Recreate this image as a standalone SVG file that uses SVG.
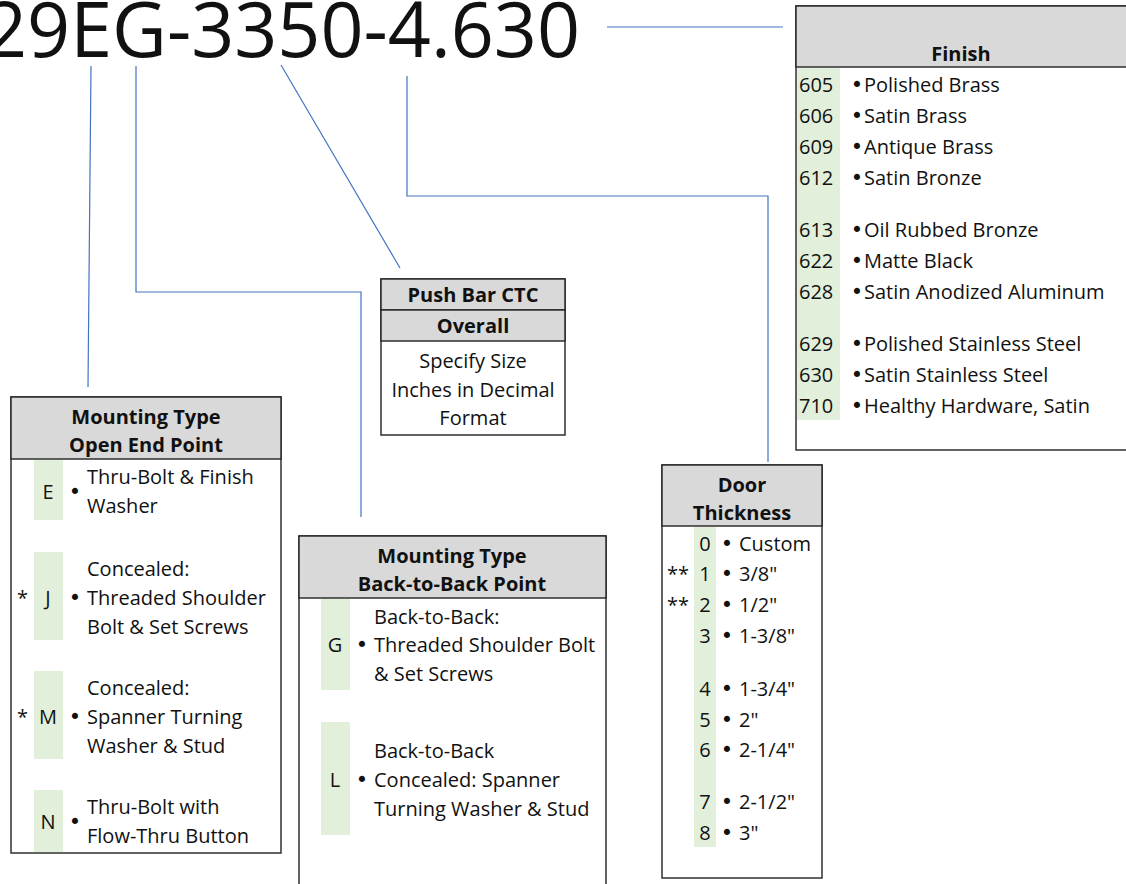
<svg xmlns="http://www.w3.org/2000/svg" width="1126" height="884" viewBox="0 0 1126 884">
<style>
text{font-family:"Open Sans","Liberation Sans",Arial,sans-serif;font-size:20px;fill:#111}
.h{font-weight:bold;text-anchor:middle}
.c{text-anchor:middle}
.b{font-family:"DejaVu Sans",sans-serif;font-size:21px;text-anchor:middle}
.box{fill:#fff;stroke:#222;stroke-width:1.4}
.hd{fill:#D9D9D9;stroke:#222;stroke-width:1.4}
.g{fill:#E2EFDA}
.ln{fill:none;stroke:#4472C4;stroke-width:1.2}
</style>
<rect width="1126" height="884" fill="#fff"/>
<text id="title" x="-16" y="57" textLength="596" lengthAdjust="spacingAndGlyphs" style="font-size:76px">29EG-3350-4.630</text>
<g id="connectors">
<path class="ln" d="M607 27H783"/>
<path class="ln" d="M91 66L88 387"/>
<path class="ln" d="M136 66V292H361V517"/>
<path class="ln" d="M281 65L400 268"/>
<path class="ln" d="M407 76V196H768V462"/>
</g>
<g id="finish">
<rect class="box" x="796" y="6" width="340" height="444"/>
<rect class="hd" x="796" y="6" width="340" height="61"/>
<text class="h" x="961" y="61">Finish</text>
<rect class="g" x="797" y="68" width="43" height="352"/>
<g>
<text x="799" y="92">605</text><text class="b" x="857" y="92">•</text><text x="864" y="92">Polished Brass</text>
<text x="799" y="123">606</text><text class="b" x="857" y="123">•</text><text x="864" y="123">Satin Brass</text>
<text x="799" y="154">609</text><text class="b" x="857" y="154">•</text><text x="864" y="154">Antique Brass</text>
<text x="799" y="185">612</text><text class="b" x="857" y="185">•</text><text x="864" y="185">Satin Bronze</text>
<text x="799" y="237">613</text><text class="b" x="857" y="237">•</text><text x="864" y="237">Oil Rubbed Bronze</text>
<text x="799" y="268">622</text><text class="b" x="857" y="268">•</text><text x="864" y="268">Matte Black</text>
<text x="799" y="299">628</text><text class="b" x="857" y="299">•</text><text x="864" y="299">Satin Anodized Aluminum</text>
<text x="799" y="351">629</text><text class="b" x="857" y="351">•</text><text x="864" y="351">Polished Stainless Steel</text>
<text x="799" y="382">630</text><text class="b" x="857" y="382">•</text><text x="864" y="382">Satin Stainless Steel</text>
<text x="799" y="413">710</text><text class="b" x="857" y="413">•</text><text x="864" y="413">Healthy Hardware, Satin</text>
</g>
</g>
<g id="pushbar">
<rect class="box" x="381" y="279" width="184" height="156"/>
<rect class="hd" x="381" y="279" width="184" height="31"/>
<rect class="hd" x="381" y="310" width="184" height="31"/>
<text class="h" x="473" y="302">Push Bar CTC</text>
<text class="h" x="473" y="333">Overall</text>
<text class="c" x="473" y="368">Specify Size</text>
<text class="c" x="473" y="397">Inches in Decimal</text>
<text class="c" x="473" y="425">Format</text>
</g>
<g id="openend">
<rect class="box" x="11" y="397" width="270" height="456"/>
<rect class="hd" x="11" y="397" width="270" height="62"/>
<text class="h" x="146" y="424">Mounting Type</text>
<text class="h" x="146" y="452">Open End Point</text>
<rect class="g" x="34" y="460" width="29" height="60"/>
<rect class="g" x="34" y="552" width="29" height="88"/>
<rect class="g" x="34" y="671" width="29" height="88"/>
<rect class="g" x="34" y="790" width="29" height="62"/>
<text class="c" x="48" y="499">E</text><text class="b" x="75" y="499">•</text>
<text x="87" y="484">Thru-Bolt &amp; Finish</text><text x="87" y="513">Washer</text>
<text x="17" y="605">*</text><text class="c" x="48" y="605">J</text><text class="b" x="75" y="605">•</text>
<text x="87" y="576">Concealed:</text><text x="87" y="605">Threaded Shoulder</text><text x="87" y="634">Bolt &amp; Set Screws</text>
<text x="17" y="724">*</text><text class="c" x="48" y="724">M</text><text class="b" x="75" y="724">•</text>
<text x="87" y="695">Concealed:</text><text x="87" y="724">Spanner Turning</text><text x="87" y="753">Washer &amp; Stud</text>
<text class="c" x="48" y="829">N</text><text class="b" x="75" y="829">•</text>
<text x="87" y="814">Thru-Bolt with</text><text x="87" y="843">Flow-Thru Button</text>
</g>
<g id="backtoback">
<rect class="box" x="299" y="536" width="307" height="360"/>
<rect class="hd" x="299" y="536" width="307" height="62"/>
<text class="h" x="452" y="563">Mounting Type</text>
<text class="h" x="452" y="591">Back-to-Back Point</text>
<rect class="g" x="321" y="599" width="29" height="91"/>
<rect class="g" x="321" y="722" width="29" height="113"/>
<text class="c" x="335" y="652">G</text><text class="b" x="362" y="652">•</text>
<text x="374" y="624">Back-to-Back:</text><text x="374" y="652">Threaded Shoulder Bolt</text><text x="374" y="681">&amp; Set Screws</text>
<text class="c" x="335" y="787">L</text><text class="b" x="362" y="787">•</text>
<text x="374" y="758">Back-to-Back</text><text x="374" y="787">Concealed: Spanner</text><text x="374" y="816">Turning Washer &amp; Stud</text>
</g>
<g id="door">
<rect class="box" x="662" y="465" width="160" height="413"/>
<rect class="hd" x="662" y="465" width="160" height="61"/>
<text class="h" x="742" y="492">Door</text>
<text class="h" x="742" y="520">Thickness</text>
<rect class="g" x="694" y="527" width="22" height="320"/>
<text class="c" x="705" y="551">0</text><text class="b" x="727" y="551">•</text><text x="739" y="551">Custom</text>
<text x="667" y="581">**</text><text class="c" x="705" y="581">1</text><text class="b" x="727" y="581">•</text><text x="739" y="581">3/8"</text>
<text x="667" y="612">**</text><text class="c" x="705" y="612">2</text><text class="b" x="727" y="612">•</text><text x="739" y="612">1/2"</text>
<text class="c" x="705" y="643">3</text><text class="b" x="727" y="643">•</text><text x="739" y="643">1-3/8"</text>
<text class="c" x="705" y="696">4</text><text class="b" x="727" y="696">•</text><text x="739" y="696">1-3/4"</text>
<text class="c" x="705" y="727">5</text><text class="b" x="727" y="727">•</text><text x="739" y="727">2"</text>
<text class="c" x="705" y="757">6</text><text class="b" x="727" y="757">•</text><text x="739" y="757">2-1/4"</text>
<text class="c" x="705" y="809">7</text><text class="b" x="727" y="809">•</text><text x="739" y="809">2-1/2"</text>
<text class="c" x="705" y="840">8</text><text class="b" x="727" y="840">•</text><text x="739" y="840">3"</text>
</g>
</svg>
